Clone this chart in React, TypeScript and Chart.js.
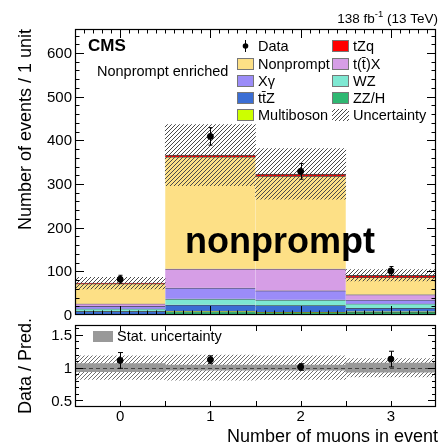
import React, { useEffect, useRef } from 'react';
import { Chart, registerables } from 'chart.js';

Chart.register(...registerables);

// ---------------- data ----------------
const xTickLabels = ['0', '1', '2', '3'];
const zzh = [2, 8, 6, 7];
const multiboson = [0.5, 1, 1, 1];
const ttz = [6, 14.5, 15, 8];
const wz = [6, 13.5, 13, 10];
const xgamma = [6, 25.5, 21, 9];
const ttx = [5.5, 43.5, 50, 12];
const nonprompt = [46, 256, 212, 39];
const tzq = [1, 4, 5, 5];
const totalUnc = [13, 70, 58, 13];
const dataCounts = [82, 409, 329, 101];
const dataErr = [9, 20, 18, 10];
const ratioVals = [1.11, 1.12, 1.01, 1.13];
const ratioErr = [0.12, 0.06, 0.05, 0.12];
const ratioSyst = [0.18, 0.19, 0.18, 0.14];
const ratioStat = [0.06, 0.04, 0.04, 0.07];
const yTicksMain = [0, 100, 200, 300, 400, 500, 600];
const yTicksRatio = [0.5, 1, 1.5];
const yTickLabelsRatio = ['0.5', '1', '1.5'];

const FONT = '"Liberation Sans", Arial, Helvetica, sans-serif';

const layers = [
  { label: 'ZZ/H', values: zzh, color: '#2eb872' },
  { label: 'Multiboson', values: multiboson, color: '#ccff00' },
  { label: 'tt\u0304Z', values: ttz, color: '#3b6ed4' },
  { label: 'WZ', values: wz, color: '#7ee8d2' },
  { label: 'X\u03b3', values: xgamma, color: '#9b8cf8' },
  { label: 't(t\u0304)X', values: ttx, color: '#d69ee6' },
  { label: 'Nonprompt', values: nonprompt, color: '#fde086' },
  { label: 'tZq', values: tzq, color: '#ff0000' },
];

function makeHatch(color: string) {
  const c = document.createElement('canvas');
  c.width = 4;
  c.height = 4;
  const g = c.getContext('2d')!;
  g.strokeStyle = color;
  g.lineWidth = 1;
  g.beginPath();
  g.moveTo(0, 4); g.lineTo(4, 0);
  g.moveTo(-1, 1); g.lineTo(1, -1);
  g.moveTo(3, 5); g.lineTo(5, 3);
  g.stroke();
  return g.createPattern(c, 'repeat')!;
}

type TickSpec = { major: number; minor: number; lmaj: number; lmin: number; from: number; to: number };

function drawFrameTicks(chart: any, xs: TickSpec, ys: TickSpec) {
  const { ctx, chartArea: a, scales } = chart;
  const sx = scales.x, sy = scales.y;
  ctx.save();
  ctx.strokeStyle = '#000';
  ctx.lineWidth = 1;
  ctx.beginPath();
  const eps = 1e-6;
  for (let k = Math.ceil(xs.from / xs.minor - eps); k * xs.minor <= xs.to + eps; k++) {
    const v = k * xs.minor;
    const isMaj = Math.abs(v / xs.major - Math.round(v / xs.major)) < 1e-4;
    const L = isMaj ? xs.lmaj : xs.lmin;
    const px = Math.round(sx.getPixelForValue(v)) + 0.5;
    if (px <= a.left + 1 || px >= a.right - 1) continue;
    ctx.moveTo(px, a.bottom); ctx.lineTo(px, a.bottom - L);
    ctx.moveTo(px, a.top); ctx.lineTo(px, a.top + L);
  }
  for (let k = Math.ceil(ys.from / ys.minor - eps); k * ys.minor <= ys.to + eps; k++) {
    const v = k * ys.minor;
    const isMaj = Math.abs(v / ys.major - Math.round(v / ys.major)) < 1e-4;
    const L = isMaj ? ys.lmaj : ys.lmin;
    const py = Math.round(sy.getPixelForValue(v)) + 0.5;
    if (py <= a.top + 1 || py >= a.bottom - 1) continue;
    ctx.moveTo(a.left, py); ctx.lineTo(a.left + L, py);
    ctx.moveTo(a.right, py); ctx.lineTo(a.right - L, py);
  }
  ctx.stroke();
  ctx.lineWidth = 1.2;
  ctx.strokeRect(a.left + 0.5, a.top + 0.5, a.right - a.left - 1, a.bottom - a.top - 1);
  ctx.restore();
}

function drawYTickLabels(chart: any, values: number[], labels: string[]) {
  const { ctx, chartArea: a, scales } = chart;
  ctx.save();
  ctx.fillStyle = '#000';
  ctx.font = `15px ${FONT}`;
  ctx.textAlign = 'right';
  ctx.textBaseline = 'middle';
  values.forEach((v, i) => {
    ctx.fillText(labels[i], a.left - 3, scales.y.getPixelForValue(v) + 1);
  });
  ctx.restore();
}

function drawErrBars(chart: any, vals: number[], errs: number[], cap: number) {
  const { ctx, scales } = chart;
  ctx.save();
  ctx.strokeStyle = '#000';
  ctx.lineWidth = 1;
  ctx.beginPath();
  vals.forEach((val, i) => {
    const px = Math.round(scales.x.getPixelForValue(i)) + 0.5;
    const y1 = scales.y.getPixelForValue(val - errs[i]);
    const y2 = scales.y.getPixelForValue(val + errs[i]);
    ctx.moveTo(px, y1); ctx.lineTo(px, y2);
    ctx.moveTo(px - cap, y1); ctx.lineTo(px + cap, y1);
    ctx.moveTo(px - cap, y2); ctx.lineTo(px + cap, y2);
  });
  ctx.stroke();
  ctx.restore();
}

const barCommon = {
  grouped: false,
  barPercentage: 1,
  categoryPercentage: 1,
};

const xScaleHidden = { type: 'category', display: false, offset: true };

const vTitle: React.CSSProperties = {
  position: 'absolute',
  left: 16,
  width: 19,
  fontFamily: FONT,
  fontSize: 18,
  lineHeight: '19px',
  color: '#000',
  whiteSpace: 'nowrap',
  writingMode: 'vertical-rl',
};

export default function App() {
  const topRef = useRef<HTMLCanvasElement>(null);
  const botRef = useRef<HTMLCanvasElement>(null);

  useEffect(() => {
    Chart.defaults.font.family = FONT;
    Chart.defaults.color = '#000';
    const hatch = makeHatch('#4a4a4a');
    const hatch2 = makeHatch('#707070');

    const cum = xTickLabels.map(() => 0);
    const layerSets = layers.map((l) => {
      const data = l.values.map((v, i) => {
        const lo = cum[i];
        cum[i] += v;
        return [lo, cum[i]];
      });
      return {
        type: 'bar',
        label: l.label,
        data,
        backgroundColor: l.color,
        borderColor: 'rgba(40,40,40,0.85)',
        borderWidth: { top: 1, left: 0, right: 0, bottom: 0 },
        borderSkipped: false,
        ...barCommon,
      };
    });
    const totals = cum.slice();

    const mainPlugin = {
      id: 'mainDeco',
      afterDraw(chart: any) {
        const { ctx } = chart;
        drawErrBars(chart, dataCounts, dataErr, 2);
        drawFrameTicks(chart,
          { major: 1, minor: 0.1, lmaj: 9, lmin: 4.5, from: -0.5, to: 3.5 },
          { major: 100, minor: 20, lmaj: 9, lmin: 4.5, from: 0, to: 655 });
        drawYTickLabels(chart, yTicksMain, yTicksMain.map(String));
        ctx.save();
        ctx.fillStyle = '#000';
        ctx.textBaseline = 'middle';
        ctx.textAlign = 'left';
        ctx.font = `bold 17px ${FONT}`;
        ctx.fillText('CMS', 88, 46);
        ctx.font = `14.5px ${FONT}`;
        ctx.fillText('Nonprompt enriched', 97, 72);
        const big = `13.5px ${FONT}`;
        const small = `9.5px ${FONT}`;
        ctx.font = big;
        const p1 = '138 fb';
        const p3 = ' (13 TeV)';
        const w1 = ctx.measureText(p1).width;
        const w3 = ctx.measureText(p3).width;
        ctx.font = small;
        const p2 = '-1';
        const w2 = ctx.measureText(p2).width;
        const x0 = 438 - (w1 + w2 + w3);
        ctx.font = big;
        ctx.fillText(p1, x0, 19);
        ctx.font = small;
        ctx.fillText(p2, x0 + w1, 14);
        ctx.font = big;
        ctx.fillText(p3, x0 + w1 + w2, 19);
        ctx.font = `bold 36px ${FONT}`;
        ctx.textAlign = 'center';
        ctx.fillText('nonprompt', 280, 243);
        ctx.textAlign = 'left';
        ctx.font = `14.5px ${FONT}`;
        const rows = [46, 64, 81, 98, 115];
        const col1 = [
          { label: 'Data', kind: 'data' },
          { label: 'Nonprompt', color: '#fde086' },
          { label: 'X\u03b3', color: '#9b8cf8' },
          { label: 'tt\u0304Z', color: '#3b6ed4' },
          { label: 'Multiboson', color: '#ccff00' },
        ];
        const col2 = [
          { label: 'tZq', color: '#ff0000' },
          { label: 't(t\u0304)X', color: '#d69ee6' },
          { label: 'WZ', color: '#7ee8d2' },
          { label: 'ZZ/H', color: '#2eb872' },
          { label: 'Uncertainty', kind: 'hatch' },
        ];
        const drawCol = (items: any[], bx: number, tx: number) => {
          items.forEach((it, i) => {
            const y = rows[i];
            if (it.kind === 'data') {
              ctx.strokeStyle = '#000';
              ctx.lineWidth = 1;
              ctx.beginPath();
              ctx.moveTo(bx + 8.5, y - 6); ctx.lineTo(bx + 8.5, y + 6);
              ctx.stroke();
              ctx.beginPath();
              ctx.arc(bx + 8.5, y, 2.8, 0, Math.PI * 2);
              ctx.fill();
            } else if (it.kind === 'hatch') {
              ctx.fillStyle = hatch;
              ctx.fillRect(bx, y - 6, 17, 12);
              ctx.fillStyle = '#000';
            } else {
              ctx.fillStyle = it.color;
              ctx.fillRect(bx, y - 6, 17, 12);
              ctx.strokeStyle = '#777';
              ctx.lineWidth = 1;
              ctx.strokeRect(bx + 0.5, y - 5.5, 16, 11);
              ctx.fillStyle = '#000';
            }
            ctx.fillText(it.label, tx, y + 1);
          });
        };
        drawCol(col1, 237, 258);
        drawCol(col2, 332, 353);
        ctx.restore();
      },
    };

    const top = new Chart(topRef.current!, {
      type: 'bar',
      data: {
        labels: xTickLabels,
        datasets: [
          {
            type: 'line',
            label: 'Data',
            data: dataCounts,
            showLine: false,
            backgroundColor: '#000',
            borderColor: '#000',
            pointRadius: 3,
          },
          {
            type: 'bar',
            label: 'Uncertainty',
            data: totals.map((t, i) => [t - totalUnc[i], t + totalUnc[i]]),
            backgroundColor: hatch,
            borderWidth: 0,
            ...barCommon,
          },
          ...layerSets.slice().reverse(),
        ],
      },
      options: {
        responsive: false,
        maintainAspectRatio: false,
        animation: false,
        events: [],
        layout: { padding: { top: 29, right: 1, bottom: 5, left: 75 } },
        plugins: { legend: { display: false }, tooltip: { enabled: false } },
        scales: {
          x: xScaleHidden,
          y: { type: 'linear', display: false, min: 0, max: 655 },
        },
      },
      plugins: [mainPlugin],
    } as any);

    const ratioPlugin = {
      id: 'ratioDeco',
      afterDatasetDraw(chart: any, args: any) {
        if (args.index !== 1) return;
        const { ctx, chartArea: a, scales } = chart;
        const y = Math.round(scales.y.getPixelForValue(1)) + 0.5;
        ctx.save();
        ctx.strokeStyle = '#444';
        ctx.lineWidth = 1;
        ctx.setLineDash([4, 3]);
        ctx.beginPath();
        ctx.moveTo(a.left, y);
        ctx.lineTo(a.right, y);
        ctx.stroke();
        ctx.restore();
      },
      afterDraw(chart: any) {
        const { ctx, chartArea: a, scales } = chart;
        drawErrBars(chart, ratioVals, ratioErr, 2.5);
        drawFrameTicks(chart,
          { major: 1, minor: 0.5, lmaj: 6, lmin: 6, from: -0.5, to: 3.5 },
          { major: 0.5, minor: 0.1, lmaj: 8, lmin: 4, from: 0.4, to: 1.65 });
        drawYTickLabels(chart, yTicksRatio, yTickLabelsRatio);
        ctx.save();
        ctx.fillStyle = '#000';
        ctx.font = `15px ${FONT}`;
        ctx.textAlign = 'center';
        ctx.textBaseline = 'middle';
        xTickLabels.forEach((lab, i) => {
          ctx.fillText(lab, scales.x.getPixelForValue(i), a.bottom + 10);
        });
        ctx.font = `18px ${FONT}`;
        ctx.textAlign = 'right';
        ctx.fillText('Number of muons in event', 438, a.bottom + 30);
        ctx.fillStyle = '#999';
        ctx.fillRect(93, a.top + 6, 20, 11);
        ctx.fillStyle = '#000';
        ctx.textAlign = 'left';
        ctx.font = `14.5px ${FONT}`;
        ctx.fillText('Stat. uncertainty', 117, a.top + 12);
        ctx.restore();
      },
    };

    const bot = new Chart(botRef.current!, {
      type: 'bar',
      data: {
        labels: xTickLabels,
        datasets: [
          {
            type: 'line',
            label: 'Data / Pred.',
            data: ratioVals,
            showLine: false,
            backgroundColor: '#000',
            borderColor: '#000',
            pointRadius: 3,
          },
          {
            type: 'bar',
            label: 'Stat. uncertainty',
            data: ratioStat.map((s) => [1 - s, 1 + s]),
            backgroundColor: '#999',
            borderWidth: 0,
            ...barCommon,
          },
          {
            type: 'bar',
            label: 'Uncertainty',
            data: ratioSyst.map((s) => [1 - s, 1 + s]),
            backgroundColor: hatch2,
            borderWidth: 0,
            ...barCommon,
          },
        ],
      },
      options: {
        responsive: false,
        maintainAspectRatio: false,
        animation: false,
        events: [],
        layout: { padding: { top: 5, right: 1, bottom: 39, left: 75 } },
        plugins: { legend: { display: false }, tooltip: { enabled: false } },
        scales: {
          x: xScaleHidden,
          y: { type: 'linear', display: false, min: 0.4, max: 1.65 },
        },
      },
      plugins: [ratioPlugin],
    } as any);

    return () => {
      top.destroy();
      bot.destroy();
    };
  }, []);

  return (
    <div style={{ position: 'fixed', left: 0, top: 0, width: 441, height: 446, background: '#fff', overflow: 'hidden' }}>
      <canvas ref={topRef} width={441} height={320} style={{ position: 'absolute', left: 0, top: 0, width: 441, height: 320 }} />
      <canvas ref={botRef} width={441} height={126} style={{ position: 'absolute', left: 0, top: 320, width: 441, height: 126 }} />
      <div style={{ ...vTitle, top: 29, transform: 'rotate(180deg)' }}>Number of events / 1 unit</div>
      <div style={{ ...vTitle, top: 366, transform: 'translateY(-50%) rotate(180deg)' }}>Data / Pred.</div>
    </div>
  );
}
